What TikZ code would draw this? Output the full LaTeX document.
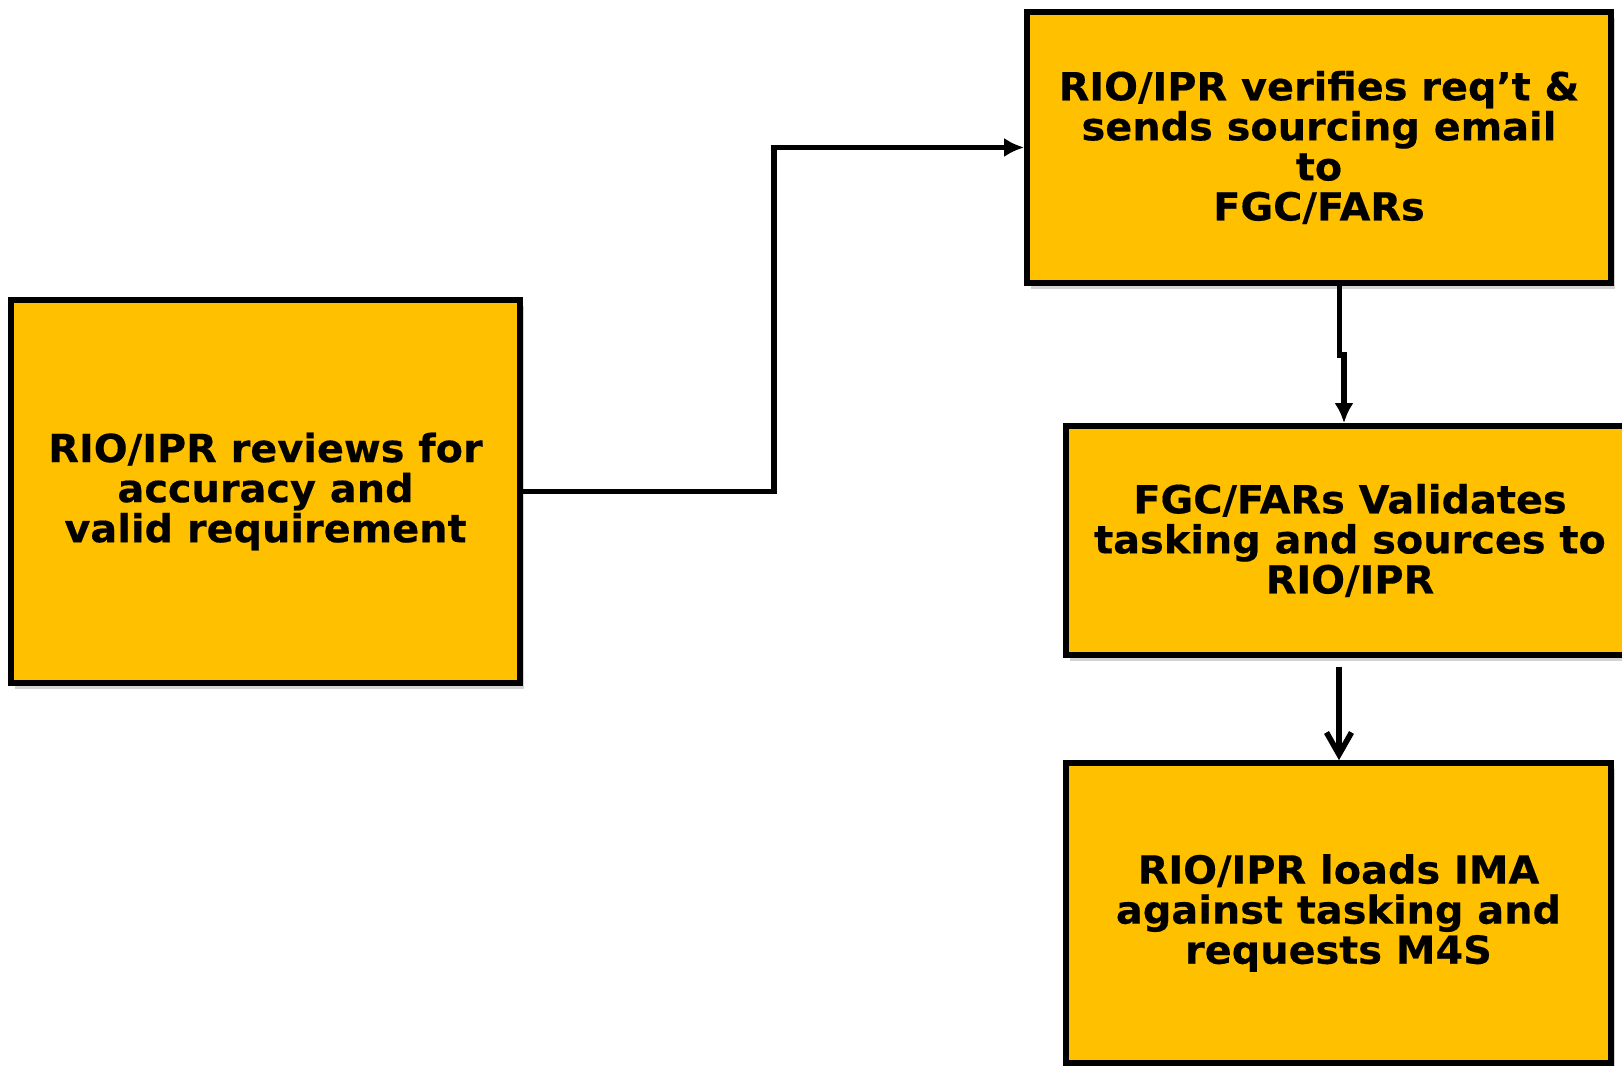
\documentclass[tikz,border=0pt]{standalone}
\usepackage{fontspec}
\setmainfont{DejaVu Sans}[FakeStretch=1.03, BoldFeatures={FakeBold=0.4}]
\usetikzlibrary{arrows.meta,shadows}
\definecolor{taskgold}{HTML}{FFC000}
\tikzset{
  task/.style = {draw, line width=1.6pt, fill=taskgold, align=center, inner sep=0pt,
    font=\fontsize{11}{11.4}\selectfont\bfseries,
    drop shadow={shadow xshift=0.04cm, shadow yshift=-0.06cm, opacity=0.35}},
  link/.style = {line width=1.6pt}
}
\begin{document}
\begin{tikzpicture}
\useasboundingbox (0,0) rectangle (16.22,10.66);

% boxes
\node [task, minimum width=5.09cm, minimum height=3.83cm] (review) at (2.655,5.745)
  {RIO/IPR reviews for\\accuracy and\\valid requirement};
\node [task, minimum width=5.84cm, minimum height=2.71cm] (verify) at (13.19,9.185)
  {RIO/IPR verifies req'{}t \&\\sends sourcing email\\to\\FGC/FARs};
\node [task, minimum width=5.68cm, minimum height=2.29cm] (validate) at (13.50,5.255)
  {FGC/FARs Validates\\tasking and sources to\\RIO/IPR};
\node [task, minimum width=5.45cm, minimum height=3.00cm] (load) at (13.385,1.53)
  {RIO/IPR loads IMA\\against tasking and\\requests M4S};

% bends of the connectors
\coordinate (bend) at (7.74,7);
\coordinate (jogA) at (13.395,7.11);
\coordinate (jogB) at (13.44,7.11);
\coordinate (dropA) at (13.39,3.99);

\draw [link, -{Latex[length=0.2cm, width=0.19cm]}] (review.east) -| (bend) |- (verify.west);
\draw [link, -{Latex[length=0.2cm, width=0.19cm]}] (jogA |- verify.south) -- (jogA) -- (jogB) -- (jogB |- validate.north);
\draw [link, -{Straight Barb[length=0.22cm, width=0.25cm]}] (dropA) -- (dropA |- load.north);
\end{tikzpicture}
\end{document}
